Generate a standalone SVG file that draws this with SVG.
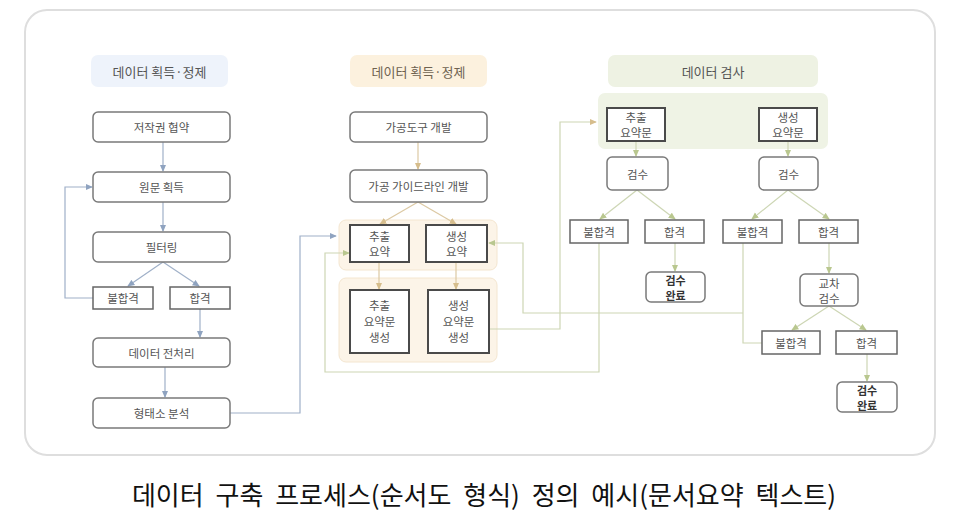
<svg xmlns="http://www.w3.org/2000/svg" width="957" height="517" viewBox="0 0 957 517">
<style>
text{font-family:"Noto Sans CJK KR","Noto Sans",sans-serif;fill:#555;text-anchor:middle;dominant-baseline:central}
.t{font-size:11.5px}
.h{font-size:13px}
.b{font-size:11px;font-weight:700;fill:#333}
.rb{fill:#fff;stroke:#7a7a7a;stroke-width:1.5}
.sb{fill:#fff;stroke:#666;stroke-width:1.5}
.db{fill:#fff;stroke:#4a4a4a;stroke-width:2}
.cb{fill:none;stroke:#9fb0c8;stroke-width:1.2}
.cy{fill:none;stroke:#dcc9a3;stroke-width:1.2}
.cg{fill:none;stroke:#cdd6b4;stroke-width:1.2}
</style>
<defs>
<marker id="ab" viewBox="0 0 8 8" refX="7" refY="4" markerWidth="6" markerHeight="6" orient="auto-start-reverse"><path d="M0,0.5 L8,4 L0,7.5 z" fill="#8fa3c0"/></marker>
<marker id="ay" viewBox="0 0 8 8" refX="7" refY="4" markerWidth="6" markerHeight="6" orient="auto-start-reverse"><path d="M0,0.5 L8,4 L0,7.5 z" fill="#d6bd8c"/></marker>
<marker id="ag" viewBox="0 0 8 8" refX="7" refY="4" markerWidth="6" markerHeight="6" orient="auto-start-reverse"><path d="M0,0.5 L8,4 L0,7.5 z" fill="#b9c78f"/></marker>
</defs>
<rect x="25" y="10" width="910" height="445" rx="22" fill="#fff" stroke="#dedede" stroke-width="2"/>

<!-- group backgrounds -->
<rect x="339" y="220" width="158" height="50" rx="7" fill="#fcf4e8" stroke="#f4e6d0" stroke-width="1"/>
<rect x="339" y="278" width="158" height="84" rx="7" fill="#fcf4e8" stroke="#f4e6d0" stroke-width="1"/>
<rect x="598" y="93" width="230" height="56" rx="7" fill="#eff3e5"/>

<g id="connectors">
<!-- column 1 -->
<path class="cb" d="M163,142 V171" marker-end="url(#ab)"/>
<path class="cb" d="M163,202 V231" marker-end="url(#ab)"/>
<path class="cb" d="M163,262 L128,286" marker-end="url(#ab)"/>
<path class="cb" d="M163,262 L199,286" marker-end="url(#ab)"/>
<path class="cb" d="M200,309 V337" marker-end="url(#ab)"/>
<path class="cb" d="M165,367 V397" marker-end="url(#ab)"/>
<path class="cb" d="M93,298 H65 V187 H92" marker-end="url(#ab)"/>
<path class="cb" d="M230,413 H300 V236 H336" marker-end="url(#ab)"/>
<!-- column 2 -->
<path class="cy" d="M418,142 V169" marker-end="url(#ay)"/>
<path class="cy" d="M418,202 L380,224" marker-end="url(#ay)"/>
<path class="cy" d="M418,202 L456,224" marker-end="url(#ay)"/>
<path class="cy" d="M379,262 V289" marker-end="url(#ay)"/>
<path class="cy" d="M456,262 V289" marker-end="url(#ay)"/>
<!-- feedback lines -->
<path class="cg" d="M599,243 V372 H325 V253 H349" marker-end="url(#ag)"/>
<path class="cg" d="M489,329 H560 V122 H596" marker-end="url(#ay)"/>
<path class="cg" d="M743,243 V343 H762"/>
<path class="cg" d="M743,313 H523 V243 H489" marker-end="url(#ag)"/>
<!-- column 3 -->
<path class="cg" d="M636,142 V156" marker-end="url(#ag)"/>
<path class="cg" d="M788,142 V156" marker-end="url(#ag)"/>
<path class="cg" d="M637,190 L600,219" marker-end="url(#ag)"/>
<path class="cg" d="M637,190 L675,219" marker-end="url(#ag)"/>
<path class="cg" d="M788,190 L752,219" marker-end="url(#ag)"/>
<path class="cg" d="M788,190 L829,219" marker-end="url(#ag)"/>
<path class="cg" d="M675,243 V271" marker-end="url(#ag)"/>
<path class="cg" d="M829,243 V273" marker-end="url(#ag)"/>
<path class="cg" d="M829,306 L792,330" marker-end="url(#ag)"/>
<path class="cg" d="M829,306 L866,330" marker-end="url(#ag)"/>
<path class="cg" d="M867,354 V381" marker-end="url(#ag)"/>
</g>

<!-- headers -->
<g id="h1"><rect x="91" y="55" width="137" height="32" rx="7" fill="#eef3fb"/><text class="h" x="159.5" y="71">데이터 획득·정제</text></g>
<g id="h2"><rect x="350" y="55" width="137" height="32" rx="7" fill="#fcf1de"/><text class="h" x="418.5" y="71" style="fill:#6e6250">데이터 획득·정제</text></g>
<g id="h3"><rect x="608" y="55" width="210" height="32" rx="7" fill="#eef2e3"/><text class="h" x="713" y="71">데이터 검사</text></g>

<!-- column 1 -->
<g id="n1"><rect class="rb" x="93" y="112" width="137" height="30" rx="5"/><text class="t" x="161.5" y="127">저작권 협약</text></g>
<g id="n2"><rect class="rb" x="93" y="172" width="137" height="30" rx="5"/><text class="t" x="161.5" y="187">원문 획득</text></g>
<g id="n3"><rect class="rb" x="93" y="232" width="137" height="30" rx="5"/><text class="t" x="161.5" y="247">필터링</text></g>
<g id="n4"><rect class="sb" x="93" y="287" width="60" height="22"/><text class="t" x="123" y="298">불합격</text></g>
<g id="n5"><rect class="sb" x="170" y="287" width="60" height="22"/><text class="t" x="200" y="298">합격</text></g>
<g id="n6"><rect class="rb" x="93" y="338" width="137" height="29" rx="5"/><text class="t" x="161.5" y="352.5">데이터 전처리</text></g>
<g id="n7"><rect class="rb" x="93" y="398" width="137" height="30" rx="5"/><text class="t" x="161.5" y="413">형태소 분석</text></g>

<!-- column 2 -->
<g id="m1"><rect class="rb" x="350" y="112" width="137" height="30" rx="5"/><text class="t" x="418.5" y="127">가공도구 개발</text></g>
<g id="m2"><rect class="rb" x="350" y="170" width="137" height="32" rx="5"/><text class="t" x="418.5" y="186">가공 가이드라인 개발</text></g>
<g id="m3"><rect class="db" x="350" y="225" width="59" height="37"/><text class="t" x="379.5" y="236">추출</text><text class="t" x="379.5" y="251">요약</text></g>
<g id="m4"><rect class="db" x="426" y="225" width="61" height="37"/><text class="t" x="456.5" y="236">생성</text><text class="t" x="456.5" y="251">요약</text></g>
<g id="m5"><rect class="db" x="350" y="290" width="59" height="63"/><text class="t" x="379.5" y="305">추출</text><text class="t" x="379.5" y="321">요약문</text><text class="t" x="379.5" y="337">생성</text></g>
<g id="m6"><rect class="db" x="428" y="290" width="61" height="63"/><text class="t" x="458.5" y="305">생성</text><text class="t" x="458.5" y="321">요약문</text><text class="t" x="458.5" y="337">생성</text></g>

<!-- column 3 -->
<g id="k1"><rect class="db" x="607" y="108" width="58" height="33"/><text class="t" x="636" y="117">추출</text><text class="t" x="636" y="132">요약문</text></g>
<g id="k2"><rect class="db" x="759" y="108" width="58" height="33"/><text class="t" x="788" y="117">생성</text><text class="t" x="788" y="132">요약문</text></g>
<g id="k3"><rect class="rb" x="607" y="157" width="61" height="33" rx="5"/><text class="t" x="637.5" y="173.5">검수</text></g>
<g id="k4"><rect class="rb" x="759" y="157" width="59" height="33" rx="5"/><text class="t" x="788.5" y="173.5">검수</text></g>
<g id="k5"><rect class="sb" x="570" y="220" width="58" height="23"/><text class="t" x="599" y="231.5">불합격</text></g>
<g id="k6"><rect class="sb" x="645" y="220" width="59" height="23"/><text class="t" x="674.5" y="231.5">합격</text></g>
<g id="k7"><rect class="sb" x="723" y="220" width="59" height="23"/><text class="t" x="752.5" y="231.5">불합격</text></g>
<g id="k8"><rect class="sb" x="799" y="220" width="59" height="23"/><text class="t" x="828.5" y="231.5">합격</text></g>
<g id="k9"><rect class="rb" x="646" y="272" width="59" height="30" rx="5"/><text class="b" x="675.5" y="279.5">검수</text><text class="b" x="675.5" y="294.5">완료</text></g>
<g id="k10"><rect class="rb" x="800" y="274" width="58" height="32" rx="5"/><text class="t" x="829" y="282.5">교차</text><text class="t" x="829" y="297.5">검수</text></g>
<g id="k11"><rect class="sb" x="762" y="331" width="58" height="23"/><text class="t" x="791" y="342.5">불합격</text></g>
<g id="k12"><rect class="sb" x="836" y="331" width="61" height="23"/><text class="t" x="866.5" y="342.5">합격</text></g>
<g id="k13"><rect class="rb" x="837" y="382" width="60" height="30" rx="5"/><text class="b" x="867" y="389.5">검수</text><text class="b" x="867" y="404.5">완료</text></g>

<text x="484" y="493" style="font-size:26px;fill:#111;word-spacing:6px">데이터 구축 프로세스(순서도 형식) 정의 예시(문서요약 텍스트)</text>
</svg>
